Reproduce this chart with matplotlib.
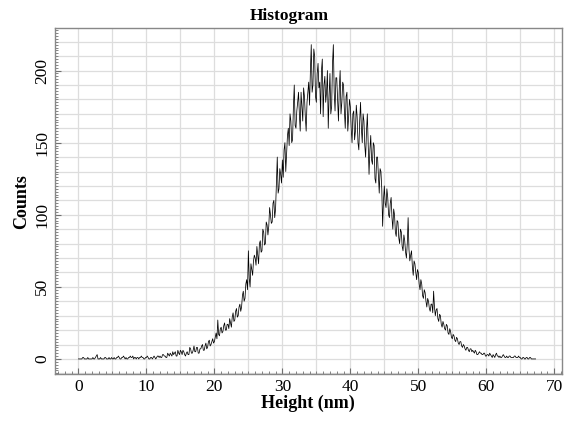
import numpy as np
import matplotlib
matplotlib.use("Agg")
import matplotlib.pyplot as plt
from matplotlib.ticker import MultipleLocator

# histogram bins (nm), step 0.125
bin_step = 0.125
counts = [
    0, 0, 0, 0, 0, 1, 1, 0, 0, 0, 0, 1, 0, 0, 0, 0, 0, 1, 0, 0, 1, 2, 3, 0,
    0, 0, 1, 0, 0, 0, 0, 1, 1, 0, 0, 0, 1, 0, 0, 1, 0, 0, 1, 0, 0, 1, 1, 2,
    1, 0, 0, 1, 1, 2, 1, 0, 1, 0, 0, 1, 1, 2, 1, 1, 2, 0, 1, 1, 0, 1, 1, 0,
    1, 1, 2, 1, 1, 0, 0, 1, 1, 2, 1, 0, 0, 1, 1, 0, 1, 2, 1, 0, 1, 2, 2, 1,
    2, 1, 1, 3, 3, 2, 2, 1, 1, 4, 3, 2, 4, 3, 2, 5,
    3, 4, 5, 2, 2, 6, 4, 3, 6, 5, 3, 6, 5, 3, 2, 4,
    5, 3, 3, 8, 7, 4, 4, 6, 9, 5, 5, 8, 8, 4, 4, 7,
    7, 9, 10, 6, 6, 9, 11, 7, 8, 12, 13, 9, 10, 12, 14, 11,
    12, 15, 18, 14, 27, 17, 16, 21, 22, 18, 19, 23, 25, 20, 20, 24,
    24, 21, 28, 25, 22, 29, 32, 26, 27, 33, 35, 29, 30, 36, 38, 33,
    36, 44, 47, 40, 42, 52, 55, 48, 75, 56, 50, 66, 62, 58, 68, 72,
    70, 65, 78, 72, 66, 80, 82, 74, 75, 90, 88, 79, 80, 95, 93, 86,
    92, 105, 100, 94, 95, 108, 110, 98, 104, 122, 140, 115, 118, 132, 128, 122,
    138, 126, 145, 150, 130, 142, 155, 160, 148, 170, 165, 150, 152, 175, 190, 162,
    160, 172, 178, 185, 170, 158, 185, 175, 165, 188, 182, 168, 158, 178, 185, 192,
    176, 200, 218, 185, 190, 215, 210, 182,
    178, 198, 205, 188, 192, 170, 200, 208,
    168, 190, 196, 178, 185, 200, 160, 182,
    198, 170, 175, 205, 218, 185, 172, 195,
    195, 180, 165, 188, 200, 170, 178, 192,
    190, 172, 160, 182, 185, 158, 168, 180,
    175, 160, 150, 170, 172, 152, 158, 176, 168, 150, 145, 165, 178, 160, 150, 170,
    165, 148, 140, 158, 170, 150, 128, 145, 155, 138, 135, 150, 148, 125, 122, 140,
    140, 128, 115, 132, 130, 118, 92, 110, 120, 108, 105, 118, 112, 100, 98, 108,
    112, 98, 90, 104, 100, 88, 85, 96, 95, 84, 80, 90, 88, 78, 75, 86,
    82, 74, 70, 80, 98, 76, 68, 72, 75, 64, 58, 68, 66, 60, 55, 62,
    60, 52, 48, 55, 52, 44, 42, 48, 46, 40, 36, 42, 40, 35, 33, 38,
    38, 32, 47, 36, 30, 34, 35, 28, 26, 31, 30, 24, 22, 26, 24, 21,
    20, 24, 23, 18, 17, 21, 19, 15, 14, 17, 16, 13, 12, 15, 14, 11,
    10, 12, 12, 9, 8, 10, 9, 7, 6, 8, 8, 6, 5, 7, 7, 5,
    6, 5, 4, 6, 5, 3, 3, 4, 5, 4, 4, 3, 3, 4, 4, 2,
    2, 3, 3, 2, 4, 3, 2, 1, 3, 2, 1, 3, 4, 2, 2, 1,
    2, 1, 1, 2, 3, 2, 1, 1, 2, 1, 1, 2, 2, 1, 1, 1,
    1, 2, 2, 1, 1, 1, 2, 1, 1, 0, 0, 1, 1, 0, 0, 1,
    1, 0, 0, 1, 1, 0, 0, 0, 0, 0, 0,
]
height = np.arange(len(counts)) * bin_step

x_ticks = [0, 10, 20, 30, 40, 50, 60, 70]
y_ticks = [0, 50, 100, 150, 200]

plt.rcParams['font.family'] = ['Liberation Serif', 'DejaVu Serif']

fig = plt.figure(figsize=(5.64, 4.23), dpi=100)
ax = fig.add_axes([0.0975, 0.116, 0.8985, 0.817])

# grille : verticales tous les 5 nm, horizontales tous les 10 coups
for v in np.arange(0, 71, 5):
    ax.axvline(v, color='#dddddd', lw=0.9, zorder=0)
for v in np.arange(-10, 231, 10):
    ax.axhline(v, color='#dddddd', lw=0.9, zorder=0)

ax.plot(height, counts, color='black', lw=0.55)

ax.set_xlim(-3.45, 71.1)
ax.set_ylim(-10.4, 229.3)
ax.set_xticks(x_ticks)
ax.set_yticks(y_ticks)
ax.xaxis.set_minor_locator(MultipleLocator(1))
ax.yaxis.set_minor_locator(MultipleLocator(2))
ax.tick_params(which='both', direction='in', colors='#707070', labelcolor='black',
               labelsize=12.5, top=False, right=False)
ax.tick_params(which='major', length=4, width=0.8)
ax.tick_params(which='minor', length=2, width=0.6)
plt.setp(ax.get_yticklabels(), rotation=90, va='center')

for s in ax.spines.values():
    s.set_color('#888888')
    s.set_linewidth(1.0)

# le titre est décalé à gauche du centre des axes dans l'original
ax.set_title('Histogram', fontsize=12.5, fontweight='bold', pad=6, x=0.462)
ax.set_xlabel('Height (nm)', fontsize=13, fontweight='bold', labelpad=0)
ax.set_ylabel('Counts', fontsize=13, fontweight='bold', labelpad=3)

fig.savefig('out.png', dpi=100)
